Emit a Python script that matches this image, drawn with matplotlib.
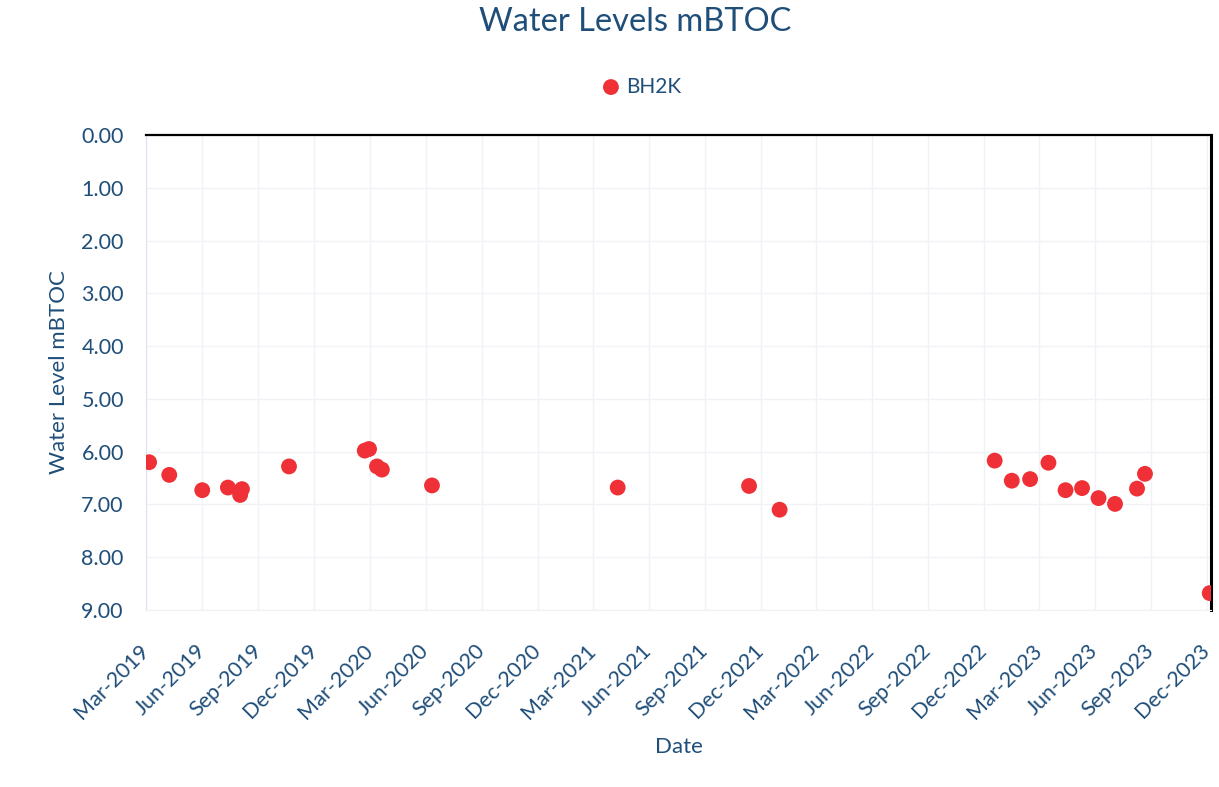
import numpy as np
import pandas as pd
import matplotlib
matplotlib.use("Agg")
import matplotlib.pyplot as plt
import matplotlib.dates as mdates

# BH2K dip readings, metres below top of casing
dates = [
    "2019-03-06", "2019-04-08", "2019-06-01", "2019-07-13", "2019-08-02",
    "2019-08-05", "2019-10-21", "2020-02-22", "2020-02-29", "2020-03-13",
    "2020-03-21", "2020-06-11", "2021-04-11", "2021-11-12", "2022-01-01",
    "2022-12-19", "2023-01-16", "2023-02-15", "2023-03-17", "2023-04-14",
    "2023-05-11", "2023-06-07", "2023-07-04", "2023-08-09", "2023-08-22",
    "2023-12-06",
]
levels = [
    6.20, 6.44, 6.73, 6.68, 6.82,
    6.71, 6.28, 5.98, 5.95, 6.28,
    6.34, 6.64, 6.68, 6.65, 7.10,
    6.17, 6.55, 6.52, 6.21, 6.73,
    6.69, 6.88, 6.99, 6.70, 6.42,
    8.68,
]
series_name = "BH2K"
y_ticks = [0, 1, 2, 3, 4, 5, 6, 7, 8, 9]

txt = "#1f4e79"
plt.rcParams["font.family"] = ["Lato", "DejaVu Sans"]

fig = plt.figure(figsize=(12.19, 7.87), dpi=100)
ax = fig.add_axes([0.1198, 0.2249, 0.8736, 0.6036])

x = pd.to_datetime(dates)
ax.scatter(x, levels, s=130, color="#ef3036", zorder=3, label=series_name,
           edgecolors="none")

ax.set_ylim(9, 0)
ax.set_yticks(y_ticks)
ax.yaxis.set_major_formatter(plt.FormatStrFormatter("%.2f"))

ax.set_xlim(pd.Timestamp("2019-03-01"), pd.Timestamp("2023-12-08"))
xt = pd.date_range("2019-03-01", "2023-12-01", freq="3MS")
ax.set_xticks(xt)
ax.xaxis.set_major_formatter(mdates.DateFormatter("%b-%Y"))

ax.grid(True, color="#f0f2f7", lw=1.0)
ax.set_axisbelow(True)
ax.tick_params(length=0, labelsize=15.5, labelcolor=txt)
ax.tick_params(axis="y", pad=16)
ax.tick_params(axis="x", pad=27)
for lab in ax.get_xticklabels():
    lab.set_rotation(45)
    lab.set_ha("right")
    lab.set_va("center")
    lab.set_rotation_mode("anchor")

ax.spines["top"].set_color("black")
ax.spines["top"].set_linewidth(1.6)
ax.spines["right"].set_color("black")
ax.spines["right"].set_linewidth(2.2)
ax.spines["left"].set_color("#dbe3ee")
ax.spines["bottom"].set_color("#eef1f6")

ax.set_ylabel("Water Level mBTOC", fontsize=16, color=txt, labelpad=9)
ax.set_xlabel("Date", fontsize=16, color=txt, labelpad=10)
fig.text(0.521, 0.972, "Water Levels mBTOC", fontsize=23.5, color=txt,
         ha="center", va="center")

ax.legend(loc="center", bbox_to_anchor=(0.46, 1.102), frameon=False,
          fontsize=15, labelcolor=txt, handletextpad=-0.25, markerscale=1.0,
          borderpad=0)

fig.savefig("out.png", dpi=100, facecolor="white")
